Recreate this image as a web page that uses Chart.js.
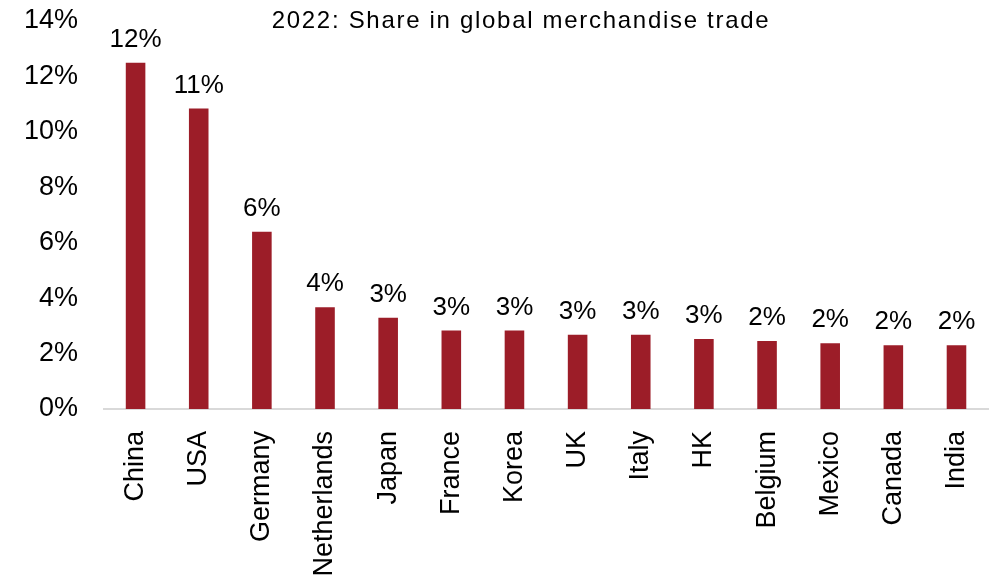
<!DOCTYPE html>
<html>
<head>
<meta charset="utf-8">
<script src="https://cdn.jsdelivr.net/npm/chart.js@4"></script>
<style>
  html, body { margin: 0; padding: 0; background: #fff; }
</style>
</head>
<body>
<canvas id="tradeChart" width="1003" height="581"></canvas>
<script>
const countries = ['China', 'USA', 'Germany', 'Netherlands', 'Japan', 'France', 'Korea',
    'UK', 'Italy', 'HK', 'Belgium', 'Mexico', 'Canada', 'India'];
const tradeShare = [12.49, 10.84, 6.4, 3.67, 3.29, 2.83, 2.83, 2.68, 2.68, 2.53, 2.45, 2.37, 2.3, 2.3];
const yTicks = [0, 2, 4, 6, 8, 10, 12, 14];
const chartTitle = '2022: Share in global merchandise trade';

// value labels above each bar, rounded to whole percent
const barLabels = {
    id: 'barLabels',
    afterDatasetsDraw(chart) {
        const ctx = chart.ctx;
        const meta = chart.getDatasetMeta(0);
        ctx.save();
        ctx.font = '26px "Liberation Sans", Arial, sans-serif';
        ctx.fillStyle = '#000';
        ctx.textAlign = 'center';
        ctx.textBaseline = 'alphabetic';
        meta.data.forEach((bar, i) => {
            ctx.fillText(Math.round(tradeShare[i]) + '%', bar.x, bar.y - 16);
        });
        ctx.restore();
    }
};

// title sits inside the plot area, top centre
const insideTitle = {
    id: 'insideTitle',
    afterDraw(chart) {
        const ctx = chart.ctx;
        ctx.save();
        ctx.font = '24px "Liberation Sans", Arial, sans-serif';
        ctx.fillStyle = '#000';
        ctx.textAlign = 'center';
        ctx.textBaseline = 'middle';
        ctx.letterSpacing = '1.7px';
        ctx.fillText(chartTitle, 521, 21);
        ctx.restore();
    }
};

new Chart(document.getElementById('tradeChart'), {
    type: 'bar',
    data: {
        labels: countries,
        datasets: [{
            data: tradeShare,
            backgroundColor: '#9C1D28',
            barPercentage: 0.31,
            categoryPercentage: 1
        }]
    },
    options: {
        responsive: false,
        animation: false,
        layout: { padding: { top: 21, right: 3, left: 0, bottom: 0 } },
        plugins: {
            legend: { display: false },
            tooltip: { enabled: false }
        },
        scales: {
            x: {
                grid: { display: false },
                border: { display: true, color: '#d9d9d9', width: 2 },
                ticks: {
                    color: '#000',
                    font: { family: '"Liberation Sans", Arial, sans-serif', size: 27 },
                    maxRotation: 90,
                    minRotation: 90,
                    autoSkip: false,
                    padding: 14
                },
                afterFit(scale) { scale.height = 172; }
            },
            y: {
                min: 0,
                max: 14,
                afterBuildTicks(scale) {
                    scale.ticks = yTicks.map(v => ({ value: v }));
                },
                grid: { display: false },
                border: { display: false },
                ticks: {
                    color: '#000',
                    font: { family: '"Liberation Sans", Arial, sans-serif', size: 27 },
                    padding: 18,
                    callback: v => v + '%'
                },
                afterFit(scale) {
                    scale.width = 104;
                    scale.paddingTop = 0;
                    scale.paddingBottom = 0;
                }
            }
        }
    },
    plugins: [barLabels, insideTitle]
});
</script>
</body>
</html>
